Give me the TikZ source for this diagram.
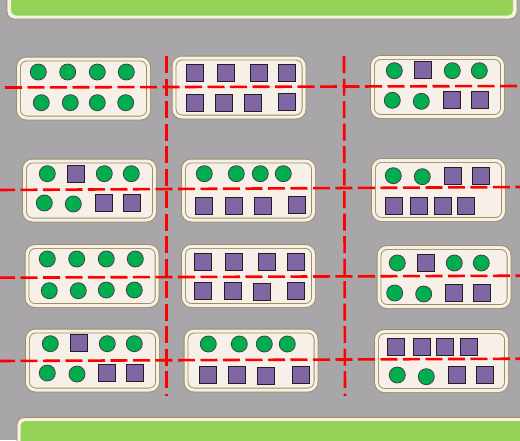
\documentclass[tikz,border=0pt]{standalone}
\definecolor{bg}{HTML}{A8A6A9}
\definecolor{barg}{HTML}{94D357}
\definecolor{olive}{HTML}{9C8E5E}
\definecolor{cream}{HTML}{F6F0E8}
\definecolor{gfill}{HTML}{00AE4F}
\definecolor{pfill}{HTML}{8166A6}
\definecolor{sline}{HTML}{231F20}
\newcommand\gc[3]{\node[gdot] (#1) at (#2,#3) {};}
\newcommand\ps[3]{\node[psq] (#1) at (#2,#3) {};}
\newcommand\tray[3]{\node[tray] (#1) at (#2,#3) {};}
\begin{document}
\begin{tikzpicture}[x=1pt,y=-1pt,
  gdot/.style={circle,draw=sline!85,line width=0.8pt,fill=gfill,minimum size=16pt,inner sep=0pt},
  psq/.style={rectangle,draw=sline,line width=1pt,fill=pfill,minimum size=17pt,inner sep=0pt},
  tray/.style={rectangle,rounded corners=8pt,draw=olive,line width=0.9pt,double=cream,double distance=3pt,fill=cream,minimum width=130pt,minimum height=59pt,inner sep=0pt},
  redline/.style={draw=red,line width=2.6pt,dash pattern=on 17pt off 5.5pt}]
\useasboundingbox (0,0) rectangle (520,440);
\fill[bg] (0,0) rectangle (520,440);
% bars
\filldraw[fill=cream,draw=olive,line width=0.9pt,rounded corners=7pt] (7,-20) rectangle (517,19);
\fill[barg,rounded corners=5pt] (11,-20) rectangle (513,15.5);
\filldraw[fill=cream,draw=olive,line width=0.9pt,rounded corners=7pt] (17,417.5) rectangle (540,460);
\fill[barg,rounded corners=5pt] (20.5,421) rectangle (540,460);
% trays
\tray{A}{83.5}{88.5}
\tray{B}{239}{87.5}
\tray{C}{437.5}{87}
\tray{D}{89.5}{190.5}
\tray{E}{248.5}{190.5}
\tray{F}{438.5}{190}
\tray{G}{92}{276}
\tray{H}{248.5}{276}
\tray{I}{444}{277}
\tray{J}{92.5}{360.5}
\tray{K}{251}{360.5}
\tray{L}{441.5}{361}
% A
\gc{a1}{38.3}{72}\gc{a2}{67.7}{72}\gc{a3}{97.3}{72}\gc{a4}{126.3}{72}
\gc{a5}{41.3}{102.7}\gc{a6}{70.3}{102.7}\gc{a7}{97.3}{102.7}\gc{a8}{125.7}{102.7}
% B
\ps{b1}{195}{72.7}\ps{b2}{226}{72.7}\ps{b3}{259}{72.7}\ps{b4}{287.3}{72.7}
\ps{b5}{195}{103}\ps{b6}{224}{103}\ps{b7}{253}{103}\ps{b8}{287.3}{102}
% C
\gc{c1}{394.3}{70.7}\ps{c2}{423}{70.3}\gc{c3}{452.3}{70.7}\gc{c4}{479.3}{70.7}
\gc{c5}{392.3}{100.3}\gc{c6}{421.3}{101.3}\ps{c7}{452}{100}\ps{c8}{480}{100}
% D
\gc{d1}{47.3}{173.7}\ps{d2}{76}{173.7}\gc{d3}{104.3}{173.7}\gc{d4}{131.3}{173.7}
\gc{d5}{44.3}{203}\gc{d6}{73.3}{204}\ps{d7}{104}{202.7}\ps{d8}{132}{202.7}
% E
\gc{e1}{204.3}{173.7}\gc{e2}{236.3}{173.7}\gc{e3}{260.3}{173.7}\gc{e4}{283.3}{173.7}
\ps{e5}{204}{206}\ps{e6}{234}{206}\ps{e7}{263}{206}\ps{e8}{297}{205}
% F
\gc{f1}{393.3}{175.7}\gc{f2}{422.3}{176.7}\ps{f3}{453}{176}\ps{f4}{481}{176}
\ps{f5}{394}{205.7}\ps{f6}{419}{205.7}\ps{f7}{442.7}{205.7}\ps{f8}{466}{205.7}
% G
\gc{g1}{47.3}{259}\gc{g2}{76.7}{259}\gc{g3}{106.3}{259}\gc{g4}{135.3}{259}
\gc{g5}{49.3}{290.7}\gc{g6}{78.3}{290.7}\gc{g7}{106.3}{290}\gc{g8}{134.3}{290}
% H
\ps{h1}{203}{262}\ps{h2}{234}{262}\ps{h3}{267}{262}\ps{h4}{296}{262}
\ps{h5}{203}{291}\ps{h6}{233}{291}\ps{h7}{262}{292}\ps{h8}{296}{291}
% I
\gc{i1}{397.3}{263}\ps{i2}{426}{262.7}\gc{i3}{454.3}{263}\gc{i4}{481.3}{263}
\gc{i5}{394.7}{293}\gc{i6}{423.7}{294}\ps{i7}{454}{293}\ps{i8}{482}{293}
% J
\gc{j1}{50.3}{343.7}\ps{j2}{79}{343.3}\gc{j3}{107.3}{343.7}\gc{j4}{134.3}{343.7}
\gc{j5}{47.3}{373}\gc{j6}{77}{374}\ps{j7}{107.3}{373}\ps{j8}{134.7}{373}
% K
\gc{k1}{208.3}{344}\gc{k2}{239.3}{344}\gc{k3}{264.3}{344}\gc{k4}{287.3}{344}
\ps{k5}{208}{375}\ps{k6}{237.3}{375}\ps{k7}{265.7}{375.7}\ps{k8}{301}{374.7}
% L
\ps{l1}{396}{346.7}\ps{l2}{421.7}{346.7}\ps{l3}{444.7}{346.7}\ps{l4}{469}{346.7}
\gc{l5}{397.3}{375}\gc{l6}{426.3}{376.7}\ps{l7}{457}{375}\ps{l8}{485}{375}
% dashed guide lines
\coordinate (v1t) at (166.5,56); \coordinate (v1b) at (166.5,396);
\coordinate (v2t) at (344,56);   \coordinate (v2b) at (345,396);
\coordinate (h1l) at (5,87.5);   \coordinate (h1r) at (522,86);
\coordinate (h2l) at (-2,190);   \coordinate (h2r) at (522,187);
\coordinate (h3l) at (-2,277.7); \coordinate (h3r) at (522,275.7);
\coordinate (h4l) at (-2,361);   \coordinate (h4r) at (522,358.7);
\draw[redline] (v1t) -- (v1b);
\draw[redline] (v2t) -- (v2b);
\draw[redline] (h1l) -- (h1r);
\draw[redline] (h2l) -- (h2r);
\draw[redline] (h3l) -- (h3r);
\draw[redline] (h4l) -- (h4r);
\end{tikzpicture}
\end{document}
